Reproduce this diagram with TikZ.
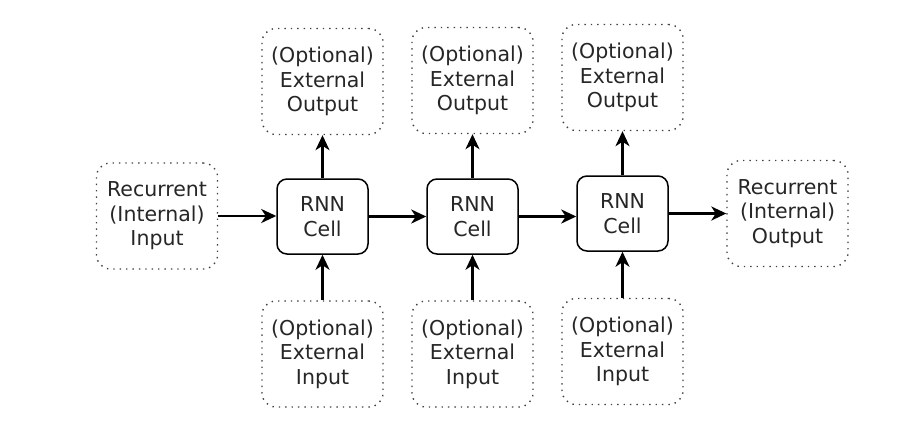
\documentclass[tikz,border=0pt]{standalone}
\usepackage{fontspec}
\setmainfont{DejaVu Sans}
\usetikzlibrary{arrows.meta}
\begin{document}
\begin{tikzpicture}[x=1bp,y=-1bp,
  txt/.style={font=\fontsize{20.5bp}{24.5bp}\selectfont, text=black!85, align=center, inner sep=0pt},
  cellbox/.style={txt, draw=black, line width=1.5bp, rounded corners=10bp, minimum width=91bp, minimum height=75bp},
  optbox/.style={txt, draw=black!75, line width=1.4bp, dash pattern=on 1.4bp off 5bp, rounded corners=14bp, minimum width=121bp, minimum height=106bp},
  arr/.style={line width=2.4bp, -{Stealth[length=15bp, width=14bp, inset=4.5bp]}}]
\useasboundingbox (0,0) rectangle (911,432);
\node[optbox] (rin) at (157,216) {Recurrent\\(Internal)\\Input};
\node[cellbox] (c1) at (322.5,216.5) {RNN\\Cell};
\node[cellbox] (c2) at (472.5,216.5) {RNN\\Cell};
\node[cellbox] (c3) at (622.5,213.5) {RNN\\Cell};
\node[optbox] (rout) at (787.5,213.5) {Recurrent\\(Internal)\\Output};
\node[optbox] (o1) at (322.5,81.5) {(Optional)\\External\\Output};
\node[optbox] (o2) at (472.5,80.5) {(Optional)\\External\\Output};
\node[optbox] (o3) at (622.5,77.5) {(Optional)\\External\\Output};
\node[optbox] (i1) at (322.5,354) {(Optional)\\External\\Input};
\node[optbox] (i2) at (472.5,354) {(Optional)\\External\\Input};
\node[optbox] (i3) at (622.5,351.5) {(Optional)\\External\\Input};
\draw[arr] (rin.east) -- (rin.east -| c1.west);
\draw[arr] (c1.east) -- (c2.west);
\draw[arr] (c2.east) -- (c2.east -| c3.west);
\draw[arr] (c3.east) -- (rout.west);
\draw[arr] (c1.north) -- (o1.south);
\draw[arr] (c2.north) -- (o2.south);
\draw[arr] (c3.north) -- (o3.south);
\draw[arr] (i1.north) -- (c1.south);
\draw[arr] (i2.north) -- (c2.south);
\draw[arr] (i3.north) -- (c3.south);
\end{tikzpicture}
\end{document}
